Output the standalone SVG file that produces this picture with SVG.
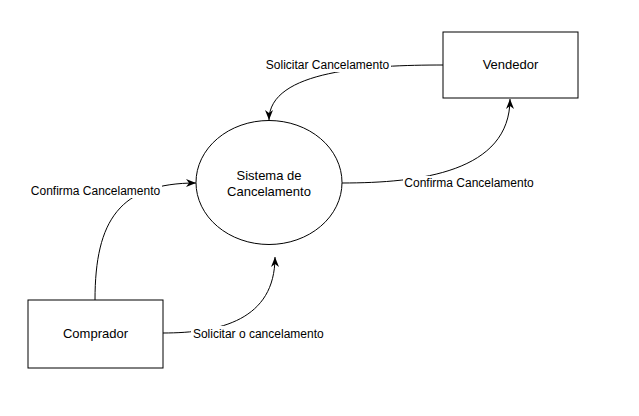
<svg xmlns="http://www.w3.org/2000/svg" width="639" height="416" viewBox="0 0 639 416">
<defs>
<style>
.node{fill:#fff;stroke:#000;stroke-width:1}
.nt{font-family:"Liberation Sans",Arial,sans-serif;font-size:13px;fill:#000;text-anchor:middle}
.edge{fill:none;stroke:#000;stroke-width:1}
.lbg{fill:#fff;stroke:none}
.lt{font-family:"Liberation Sans",Arial,sans-serif;font-size:12px;fill:#000;text-anchor:middle}
</style>
<marker id="arr" markerUnits="userSpaceOnUse" markerWidth="10" markerHeight="8" viewBox="0 0 10 8" refX="10" refY="4" orient="auto">
<path d="M10,4 L0,0 L3,4 L0,8 Z" fill="#000"/>
</marker>
</defs>
<rect width="639" height="416" fill="#fff"/>
<g id="connectors">
<g id="e1">
<path class="edge" d="M443,65 C370,65 269,70 269,120" marker-end="url(#arr)"/>
<rect class="lbg" x="264" y="58" width="127" height="14"/>
<text class="lt" x="327.5" y="68.5">Solicitar Cancelamento</text>
</g>
<g id="e2">
<path class="edge" d="M342,183 C420,183 510,172 510,99" marker-end="url(#arr)"/>
<rect class="lbg" x="403" y="176" width="132" height="14"/>
<text class="lt" x="469" y="187">Confirma Cancelamento</text>
</g>
<g id="e3">
<path class="edge" d="M95,300 C95,220 120,183 196,183" marker-end="url(#arr)"/>
<rect class="lbg" x="29" y="184" width="133" height="14"/>
<text class="lt" x="95.5" y="195">Confirma Cancelamento</text>
</g>
<g id="e4">
<path class="edge" d="M163,333 C220,333 275,320 275,257" marker-end="url(#arr)"/>
<rect class="lbg" x="191" y="326" width="134" height="14"/>
<text class="lt" x="258.3" y="337.5">Solicitar o cancelamento</text>
</g>
</g>
<g id="vendedor">
<rect class="node" x="443" y="32" width="135" height="66"/>
<text class="nt" x="510.5" y="69">Vendedor</text>
</g>
<g id="sistema">
<ellipse class="node" cx="269" cy="182.5" rx="73" ry="62"/>
<text class="nt" x="269" y="179.5">Sistema de</text>
<text class="nt" x="269" y="196">Cancelamento</text>
</g>
<g id="comprador">
<rect class="node" x="28" y="300" width="135" height="68"/>
<text class="nt" x="95.5" y="338">Comprador</text>
</g>
</svg>
